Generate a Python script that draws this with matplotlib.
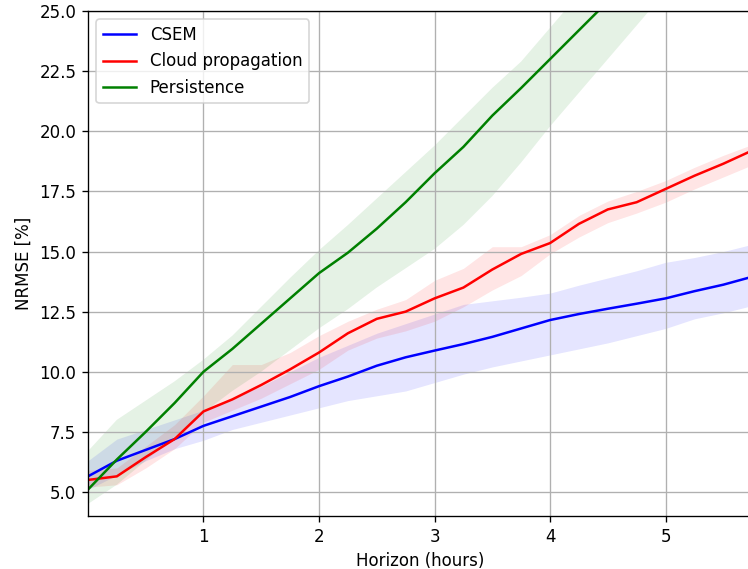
import matplotlib
matplotlib.use("Agg")
import matplotlib.pyplot as plt
import numpy as np

horizon = [0, 0.25, 0.5, 0.75, 1.0, 1.25, 1.5, 1.75, 2.0, 2.25, 2.5, 2.75,
           3.0, 3.25, 3.5, 3.75, 4.0, 4.25, 4.5, 4.75, 5.0, 5.25, 5.5, 5.75]

csem = [5.65, 6.3, 6.75, 7.2, 7.75, 8.15, 8.55, 8.95, 9.4, 9.8, 10.25, 10.6,
        10.88, 11.15, 11.45, 11.8, 12.15, 12.4, 12.62, 12.83, 13.05, 13.35, 13.62, 13.95]
csem_hi = [6.3, 7.2, 7.6, 8.0, 8.4, 8.9, 9.4, 10.0, 10.6, 11.1, 11.6, 12.0,
           12.4, 12.8, 12.95, 13.1, 13.27, 13.6, 13.9, 14.2, 14.55, 14.75, 15.0, 15.3]
csem_lo = [5.1, 5.7, 6.3, 6.8, 7.15, 7.6, 7.9, 8.2, 8.5, 8.8, 9.0, 9.2,
           9.55, 9.9, 10.2, 10.45, 10.7, 10.95, 11.2, 11.5, 11.8, 12.2, 12.45, 12.75]

cloud = [5.5, 5.65, 6.45, 7.2, 8.35, 8.85, 9.45, 10.1, 10.8, 11.6, 12.2, 12.5,
         13.05, 13.5, 14.25, 14.9, 15.35, 16.15, 16.75, 17.05, 17.6, 18.15, 18.65, 19.2]
cloud_hi = [5.9, 6.0, 6.9, 7.8, 9.0, 10.3, 10.3, 10.8, 11.5, 12.1, 12.6, 13.0,
            13.8, 14.3, 15.2, 15.2, 15.7, 16.5, 17.1, 17.5, 17.95, 18.5, 19.0, 19.45]
cloud_lo = [5.2, 5.3, 6.0, 6.8, 7.9, 8.4, 8.9, 9.5, 10.1, 10.9, 11.4, 11.7,
            12.1, 12.7, 13.4, 14.0, 14.9, 15.6, 16.2, 16.6, 17.05, 17.6, 18.1, 18.6]

persist = [5.1, 6.35, 7.5, 8.7, 10.0, 10.95, 12.0, 13.05, 14.1, 14.95, 15.95, 17.05,
           18.25, 19.35, 20.65, 21.8, 23.0, 24.2, 25.4, 26.6, 27.8, 28.9, 30.0, 31.1]
persist_hi = [6.7, 8.0, 8.8, 9.6, 10.5, 11.5, 12.7, 13.9, 15.05, 16.1, 17.2, 18.3,
              19.4, 20.6, 21.8, 22.9, 24.3, 25.7, 27.0, 28.2, 29.4, 30.5, 31.6, 32.7]
persist_lo = [4.5, 5.3, 6.3, 7.3, 8.3, 9.2, 10.0, 10.9, 11.8, 12.6, 13.5, 14.3,
              15.1, 16.1, 17.3, 18.7, 20.2, 21.6, 23.0, 24.4, 25.8, 27.0, 28.2, 29.4]

series = [
    ("CSEM", csem, csem_lo, csem_hi, "blue"),
    ("Cloud propagation", cloud, cloud_lo, cloud_hi, "red"),
    ("Persistence", persist, persist_lo, persist_hi, "green"),
]

fig = plt.figure(figsize=(748 / 120, 569 / 120), dpi=120)
ax = fig.add_axes([0.1176, 0.0931, 0.888, 0.8875])

for name, mid, lo, hi, col in series:
    ax.plot(horizon, mid, color=col, label=name)
    ax.fill_between(horizon, lo, hi, color=col, alpha=0.1, linewidth=0)

ax.set_xlim(0, 5.75)
ax.set_ylim(4, 25)
ax.set_xticks([1, 2, 3, 4, 5])
ax.set_yticks(np.arange(5.0, 25.01, 2.5))
ax.grid(True)
ax.set_xlabel("Horizon (hours)")
ax.set_ylabel("NRMSE [%]")
ax.legend(loc="upper left")

fig.savefig("out.png", dpi=120)
